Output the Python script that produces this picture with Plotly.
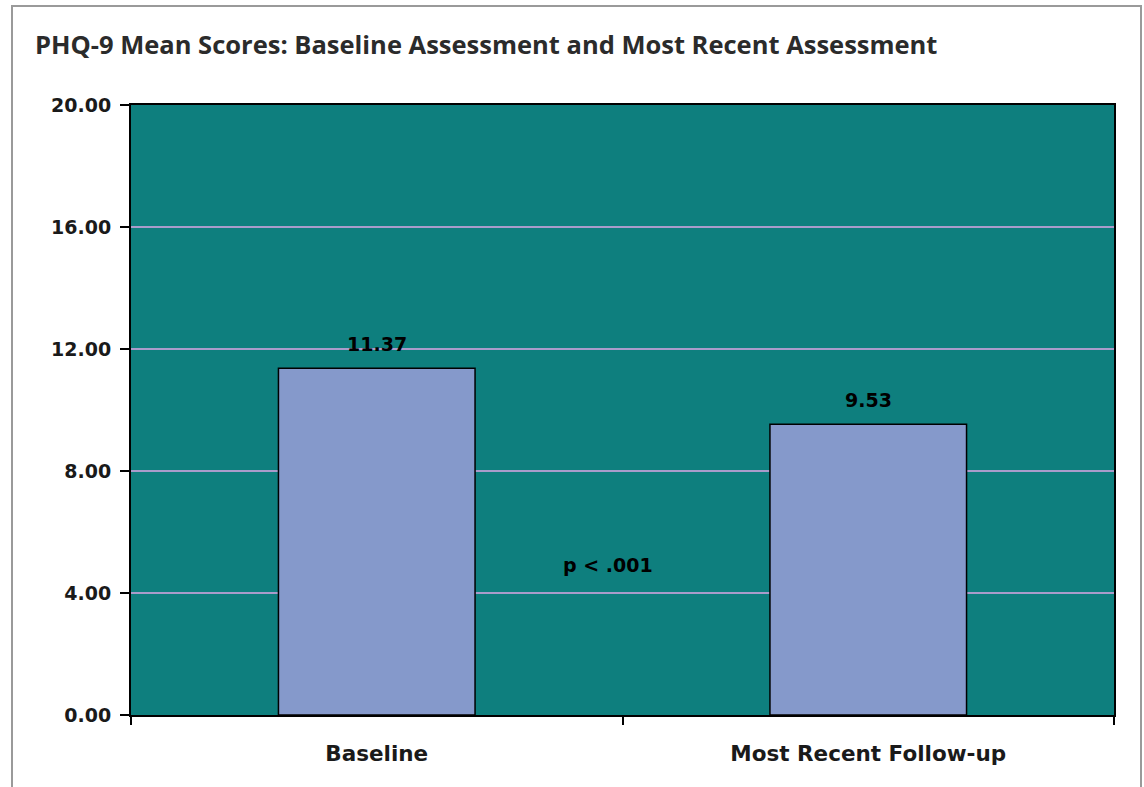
import plotly.graph_objects as go

categories = ["Baseline", "Most Recent Follow-up"]
mean_scores = [11.37, 9.53]
value_labels = ["11.37", "9.53"]
tick_values = [0, 4, 8, 12, 16, 20]
tick_labels = ["0.00", "4.00", "8.00", "12.00", "16.00", "20.00"]
title_text = "PHQ-9 Mean Scores: Baseline Assessment and Most Recent Assessment"
p_text = "p < .001"

W, H = 1144, 787
L, R, T, B = 131, 30, 105, 72
pw, ph = W - L - R, H - T - B

def px_x(px):
    return (px - L) / pw

def px_y(py):
    return (H - B - py) / ph

fig = go.Figure()
fig.add_trace(go.Bar(
    x=categories, y=mean_scores, width=0.4,
    marker=dict(color="#8599CB", line=dict(color="black", width=1.5)),
    hoverinfo="skip",
))

for c, v, t in zip(categories, mean_scores, value_labels):
    fig.add_annotation(x=c, y=v, text=t, showarrow=False, yanchor="bottom", yshift=11,
                       font=dict(family="DejaVu Sans", size=19, color="black", weight="bold"),
                       xref="x", yref="y")

fig.add_annotation(x=px_x(608), y=px_y(565), xref="paper", yref="paper", text=p_text,
                   showarrow=False, xanchor="center", yanchor="middle",
                   font=dict(family="DejaVu Sans", size=19, color="black", weight="bold"))

fig.add_annotation(x=px_x(33), y=px_y(44), xref="paper", yref="paper", text=title_text,
                   showarrow=False, xanchor="left", yanchor="middle",
                   font=dict(family="Open Sans", size=25.5, color="#2b2b2b", weight="bold"))

fig.add_shape(type="rect", xref="paper", yref="paper",
              x0=px_x(12), x1=px_x(1141), y0=px_y(6), y1=px_y(800),
              line=dict(color="#9a9a9a", width=2), fillcolor="rgba(0,0,0,0)", layer="below")

fig.update_layout(
    width=W, height=H,
    margin=dict(l=L, r=R, t=T, b=B),
    paper_bgcolor="white", plot_bgcolor="#0E7F7E",
    showlegend=False, bargap=0.6,
    xaxis=dict(
        showline=True, linecolor="black", linewidth=2, mirror=True,
        ticks="outside", tickson="boundaries", ticklen=8, tickcolor="black", tickwidth=1.5,
        showgrid=False, ticklabelstandoff=18,
        tickfont=dict(family="DejaVu Sans", size=21.5, color="#1a1a1a", weight="bold"),
    ),
    yaxis=dict(
        range=[0, 20], tickvals=tick_values, ticktext=tick_labels,
        showline=True, linecolor="black", linewidth=2, mirror=True,
        ticks="outside", ticklen=9, tickcolor="black", tickwidth=1.5,
        showgrid=True, gridcolor="#A99CCB", gridwidth=1.5, zeroline=False,
        ticklabelstandoff=5,
        tickfont=dict(family="DejaVu Sans", size=19, color="#1a1a1a", weight="bold"),
    ),
)

fig.write_html("out.html", config={"displayModeBar": False},
               post_script="document.body.style.margin='0';document.body.style.overflow='hidden';")
